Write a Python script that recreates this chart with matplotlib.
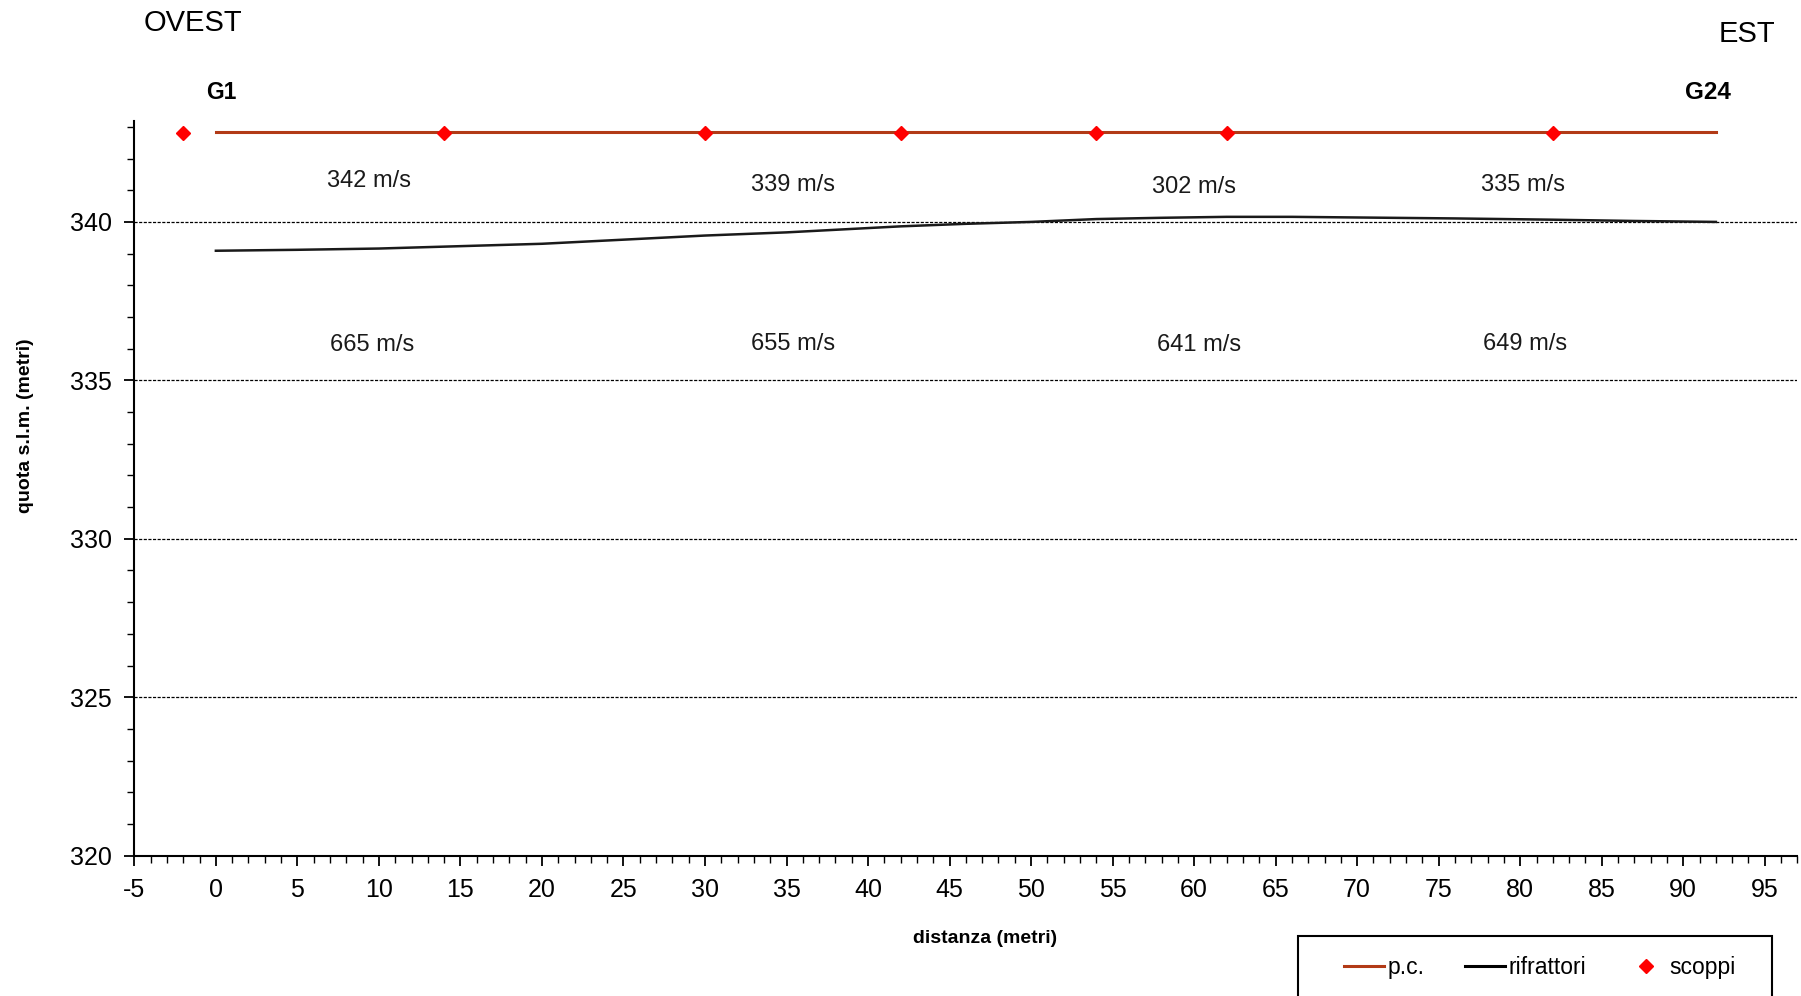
import matplotlib
matplotlib.use("Agg")
import matplotlib.pyplot as plt
from matplotlib.ticker import MultipleLocator
from matplotlib.lines import Line2D
from matplotlib.patches import Rectangle

plt.rcParams['font.family'] = ['Liberation Sans', 'DejaVu Sans']
plt.rcParams['axes.unicode_minus'] = False

# ground surface (p.c.)
pc_x = [0, 92]
pc_y = [342.85, 342.85]

# refractor
rif_x = [0, 5, 10, 14, 20, 25, 30, 35, 42, 46, 50, 54, 58, 62, 66, 70, 76, 82, 87, 92]
rif_y = [339.09, 339.12, 339.16, 339.22, 339.31, 339.44, 339.57, 339.67, 339.86, 339.94,
         340.0, 340.09, 340.13, 340.16, 340.16, 340.14, 340.11, 340.07, 340.03, 340.0]

# shots (scoppi)
sc_x = [-2, 14, 30, 42, 54, 62, 82]
sc_y = [342.8] * 7

# velocity labels
v1_x = [9.4, 35.4, 60.0, 80.2]
v1_y = [341.28, 341.18, 341.09, 341.18]
v1_t = ["342 m/s", "339 m/s", "302 m/s", "335 m/s"]
v2_x = [9.6, 35.4, 60.3, 80.3]
v2_y = [336.1, 336.15, 336.1, 336.15]
v2_t = ["665 m/s", "655 m/s", "641 m/s", "649 m/s"]

grid_y = [325, 330, 335, 340]

fig = plt.figure(figsize=(18.01, 9.96), dpi=100)
ax = fig.add_axes([0.0746, 0.1409, 0.998 - 0.0746, 0.879 - 0.1409])
ax.set_xlim(-5, 97)
ax.set_ylim(320, 343.2)

for g in grid_y:
    ax.axhline(g, color='black', lw=0.9, ls=(0, (2.5, 1.2)), zorder=1)

ax.plot(pc_x, pc_y, color='#B23A16', lw=2.2, zorder=3, label='p.c.')
ax.plot(rif_x, rif_y, color='#1a1a1a', lw=1.8, zorder=3, label='rifrattori')
ax.plot(sc_x, sc_y, ls='none', marker='D', color='#FF0000', ms=7.5, zorder=4, label='scoppi')

for x, y, t in zip(v1_x, v1_y, v1_t):
    ax.text(x, y, t, ha='center', va='center', fontsize=17, color='#1a1a1a')
for x, y, t in zip(v2_x, v2_y, v2_t):
    ax.text(x, y, t, ha='center', va='center', fontsize=17, color='#1a1a1a')

ax.text(0.35, 344.09, "G1", ha='center', va='center', fontsize=16.5, fontweight='bold', clip_on=False)
ax.text(91.5, 344.09, "G24", ha='center', va='center', fontsize=17.5, fontweight='bold', clip_on=False)
ax.text(-1.4, 346.27, "OVEST", ha='center', va='center', fontsize=21, clip_on=False)
ax.text(93.9, 345.94, "EST", ha='center', va='center', fontsize=21, clip_on=False)

ax.spines['top'].set_visible(False)
ax.spines['right'].set_visible(False)
ax.spines['left'].set_linewidth(1.5)
ax.spines['bottom'].set_linewidth(1.5)

ax.xaxis.set_major_locator(MultipleLocator(5))
ax.xaxis.set_minor_locator(MultipleLocator(1))
ax.yaxis.set_major_locator(MultipleLocator(5))
ax.yaxis.set_minor_locator(MultipleLocator(1))
ax.tick_params(axis='both', which='major', length=7, width=1.3, direction='out', labelsize=18, pad=9)
ax.tick_params(axis='both', which='minor', length=5, width=1.0, direction='out')
ax.tick_params(axis='y', which='major', pad=9)

fig.text(0.014, 0.573, "quota s.l.m. (metri)", rotation=90, ha='center', va='center',
         fontsize=14, fontweight='bold')
fig.text(0.547, 0.058, "distanza (metri)", ha='center', va='center',
         fontsize=14, fontweight='bold')

# legend frame
fig.patches.append(Rectangle((0.7207, -0.05), 0.9839 - 0.7207, 0.0602 + 0.05,
                             transform=fig.transFigure, fill=False, edgecolor='black',
                             lw=1.5, figure=fig))

handles = [Line2D([], [], color='#B23A16', lw=2.2),
           Line2D([], [], color='black', lw=2.2),
           Line2D([], [], ls='none', marker='D', color='#FF0000', ms=7.5)]
leg = fig.legend(handles, ['p.c.', 'rifrattori', 'scoppi'], ncol=3,
                 loc='center left', bbox_to_anchor=(0.7462, 0.029),
                 fontsize=16.5, frameon=False, borderpad=0, borderaxespad=0,
                 handlelength=1.75, handletextpad=0.15, columnspacing=1.75)

fig.savefig("out.png", dpi=100)
